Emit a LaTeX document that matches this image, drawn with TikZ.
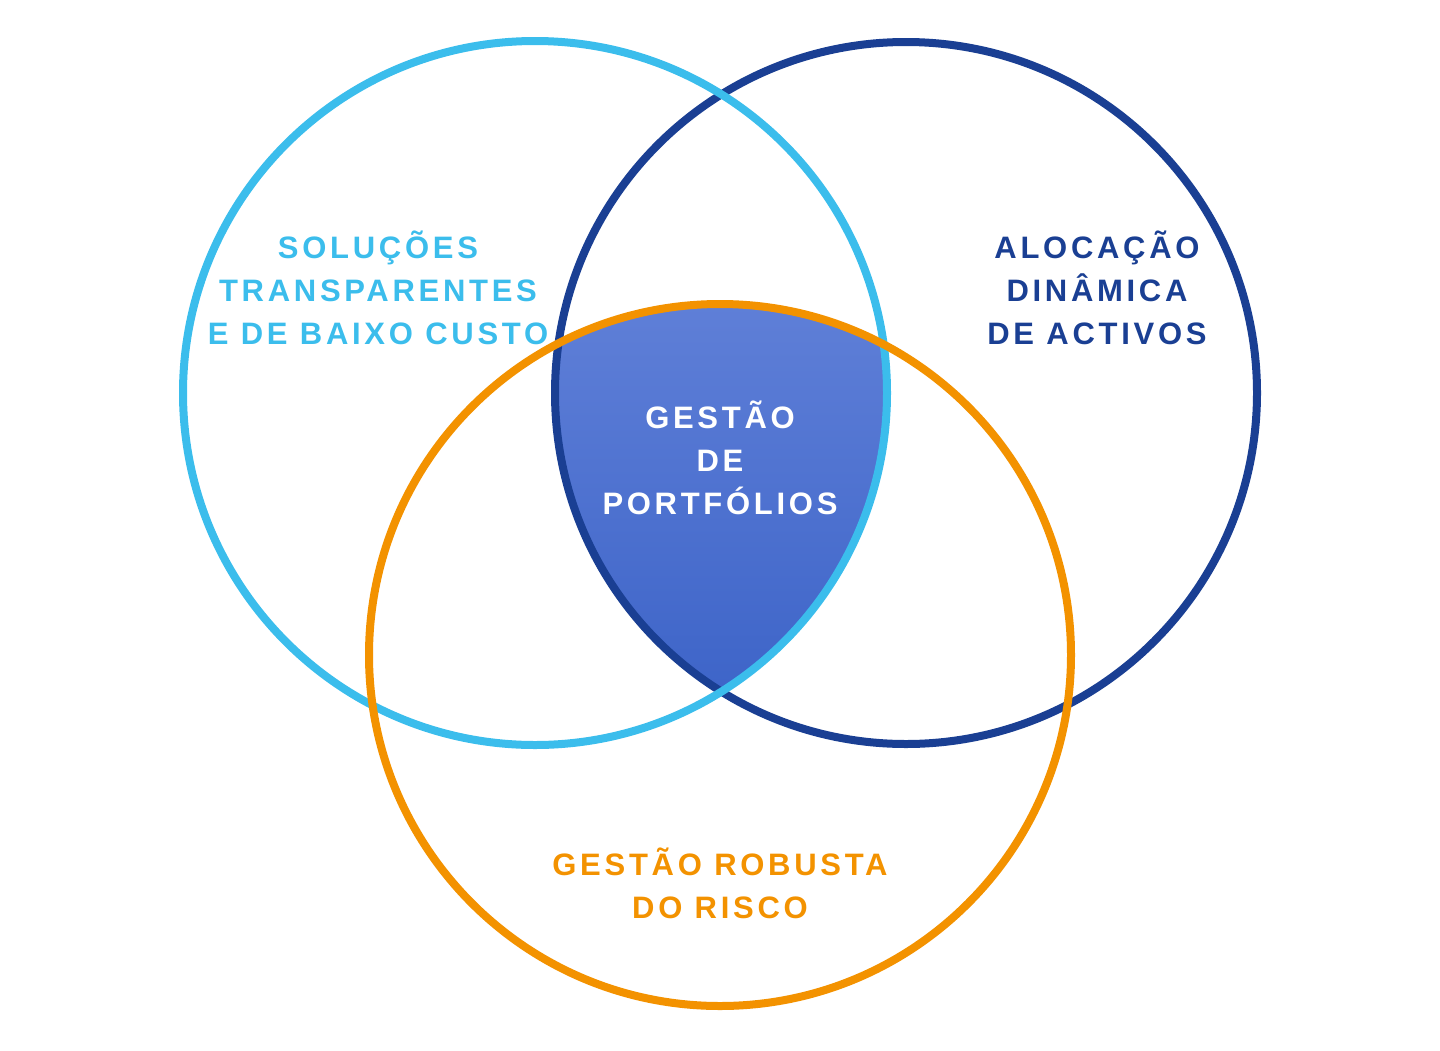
\documentclass[tikz,border=0pt]{standalone}
\usepackage{fontspec}
\setmainfont{Liberation Sans}[LetterSpace=12]
\definecolor{lb}{HTML}{3BBDEC}
\definecolor{db}{HTML}{1A3F93}
\definecolor{og}{HTML}{F39200}
\definecolor{ftop}{HTML}{6080D8}
\definecolor{fbot}{HTML}{3D64C8}
\begin{document}
\begin{tikzpicture}[x=0.5pt,y=-0.5pt,
  ring/.style={line width=4pt},
  lbl/.style={font=\bfseries\fontsize{15.5}{21.5}\selectfont,align=center,inner sep=0}]
\useasboundingbox (0,0) rectangle (1440,1050);
\coordinate (cl) at (535,393);
\coordinate (cd) at (906,393);
\coordinate (co) at (720,655);
\begin{scope}
\clip (cl) circle[radius=352];
\clip (cd) circle[radius=351];
\clip (co) circle[radius=351];
\shade[top color=ftop,bottom color=fbot] (500,290) rectangle (940,700);
\end{scope}
\draw[ring,db] (cd) circle[radius=351];
\draw[ring,lb] (cl) circle[radius=352];
\draw[ring,og] (co) circle[radius=351];
\node[lbl,text=lb] (t1) at (378,288) {SOLUÇÕES\\TRANSPARENTES\\E DE BAIXO CUSTO};
\node[lbl,text=db] (t2) at (1097,288) {ALOCAÇÃO\\DINÂMICA\\DE ACTIVOS};
\node[lbl,text=white] (t3) at (720,458) {GESTÃO\\DE\\PORTFÓLIOS};
\node[lbl,text=og] (t4) at (720,883) {GESTÃO ROBUSTA\\DO RISCO};
\end{tikzpicture}
\end{document}
